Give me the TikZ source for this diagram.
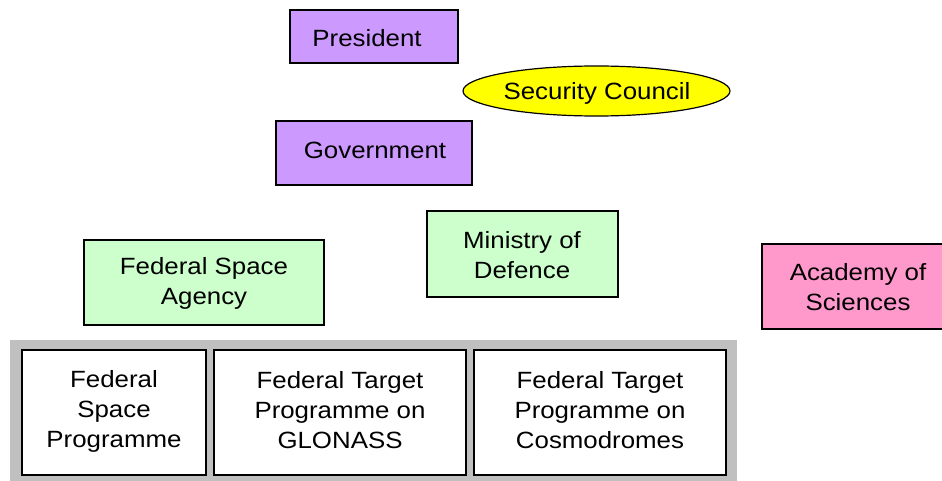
\documentclass[tikz,border=0pt]{standalone}
\usepackage{fontspec}
\setmainfont[FakeStretch=1.1]{Liberation Sans}
\usetikzlibrary{shapes.geometric}
\definecolor{purp}{HTML}{CC99FF}
\definecolor{lgreen}{HTML}{CCFFCC}
\definecolor{pink}{HTML}{FF99CC}
\definecolor{yel}{HTML}{FFFF00}
\definecolor{gry}{HTML}{C0C0C0}
\begin{document}
\begin{tikzpicture}[x=1pt,y=-1pt,
  txt/.style={font=\fontsize{23.5}{30}\selectfont, align=center, inner sep=0pt},
  boxy/.style={draw=black, line width=1.2pt, inner sep=0pt, outer sep=0pt}]
\useasboundingbox (0,0) rectangle (942,481);
\clip (0,0) rectangle (942,481);
% gray band
\fill[gry] (10,340) rectangle (737,490);
% boxes
\draw[boxy, fill=purp] (290,10) rectangle (458,63);
\node[txt] (pres) at (367,38) {President};
\draw[boxy, fill=yel] (596.5,91) ellipse [x radius=133.5, y radius=25];
\node[txt] (sec) at (597,93) {Security Council};
\draw[boxy, fill=purp] (276,121) rectangle (472,185);
\node[txt] (gov) at (375,150) {Government};
\draw[boxy, fill=lgreen] (84,240) rectangle (324,325);
\node[txt] (fsa) at (204,283) {Federal Space\\Agency};
\draw[boxy, fill=lgreen] (427,211) rectangle (618,297);
\node[txt] (mod) at (522,255) {Ministry of\\Defence};
\draw[boxy, fill=pink] (762,244) rectangle (956,329);
\node[txt] (acad) at (858,287) {Academy of\\Sciences};
\draw[boxy, fill=white] (22,350) rectangle (206,475);
\node[txt] (fsp) at (114,411) {Federal\\Space\\Programme};
\draw[boxy, fill=white] (214,350) rectangle (466,475);
\node[txt] (glo) at (340,410) {Federal Target\\Programme on\\GLONASS};
\draw[boxy, fill=white] (474,350) rectangle (726,475);
\node[txt] (cos) at (600,410) {Federal Target\\Programme on\\Cosmodromes};
\end{tikzpicture}
\end{document}
